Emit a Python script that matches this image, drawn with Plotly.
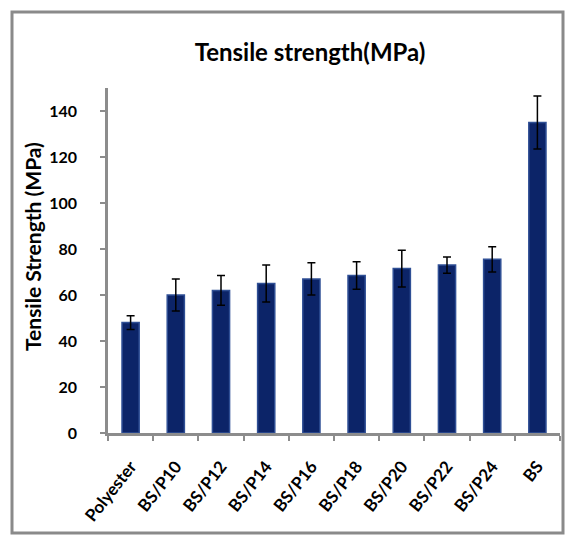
import plotly.graph_objects as go

# Tensile strength of polyester, bamboo-sisal/polyester blends and BS
categories = ["Polyester", "BS/P10", "BS/P12", "BS/P14", "BS/P16",
              "BS/P18", "BS/P20", "BS/P22", "BS/P24", "BS"]
strength = [48, 60, 62, 65, 67, 68.5, 71.5, 73, 75.5, 135]
strength_err = [3, 7, 6.5, 8, 7, 6, 8, 3.5, 5.5, 11.5]
y_ticks = [0, 20, 40, 60, 80, 100, 120, 140]

fig = go.Figure(go.Bar(
    x=categories,
    y=strength,
    marker=dict(color="#0c2468", line=dict(color="#2f4f95", width=1.5)),
    error_y=dict(type="data", array=strength_err, visible=True,
                 color="black", thickness=1.5, width=4),
    width=0.38,
))

fig.update_layout(
    width=571, height=536,
    margin=dict(l=108, r=11, t=88, b=103),
    plot_bgcolor="white", paper_bgcolor="white",
    showlegend=False,
    title=dict(text="<b>Tensile strength(MPa)</b>", x=0.543, xanchor="center",
               y=0.901, yanchor="middle",
               font=dict(family="Lato", size=24, color="black")),
    font=dict(family="Lato", color="black"),
)

fig.update_xaxes(
    type="category",
    showline=True, linecolor="#8c8c8c", linewidth=2.5,
    ticks="outside", tickson="boundaries", ticklen=5, tickwidth=2,
    tickcolor="#8c8c8c",
    tickangle=-52,
    ticklabelstandoff=14,
    tickfont=dict(family="Lato", size=17, color="black", weight="bold"),
    showgrid=False,
)

fig.update_yaxes(
    range=[0, 150],
    tickvals=y_ticks,
    showline=True, linecolor="#8c8c8c", linewidth=2.5,
    ticks="outside", ticklen=5, tickwidth=2, tickcolor="#8c8c8c",
    ticklabelstandoff=20,
    tickfont=dict(family="Lato", size=16, color="black", weight="bold"),
    showgrid=False, zeroline=False,
)

# Vertical axis caption
fig.add_annotation(
    text="<b>Tensile Strength (MPa)</b>", textangle=-90,
    xref="paper", yref="paper",
    x=(32 - 108) / 452, y=(433 - 247) / 345,
    xanchor="center", yanchor="middle", showarrow=False,
    font=dict(family="Lato", size=21, color="black"),
)

# Outer frame around the whole chart
fig.add_shape(type="rect", xref="paper", yref="paper",
              x0=(12 - 108) / 452, x1=(563 - 108) / 452,
              y0=-(533 - 433) / 345, y1=(433 - 12) / 345,
              line=dict(color="#8a8a8a", width=3), layer="below")

fig.write_html("out.html")
